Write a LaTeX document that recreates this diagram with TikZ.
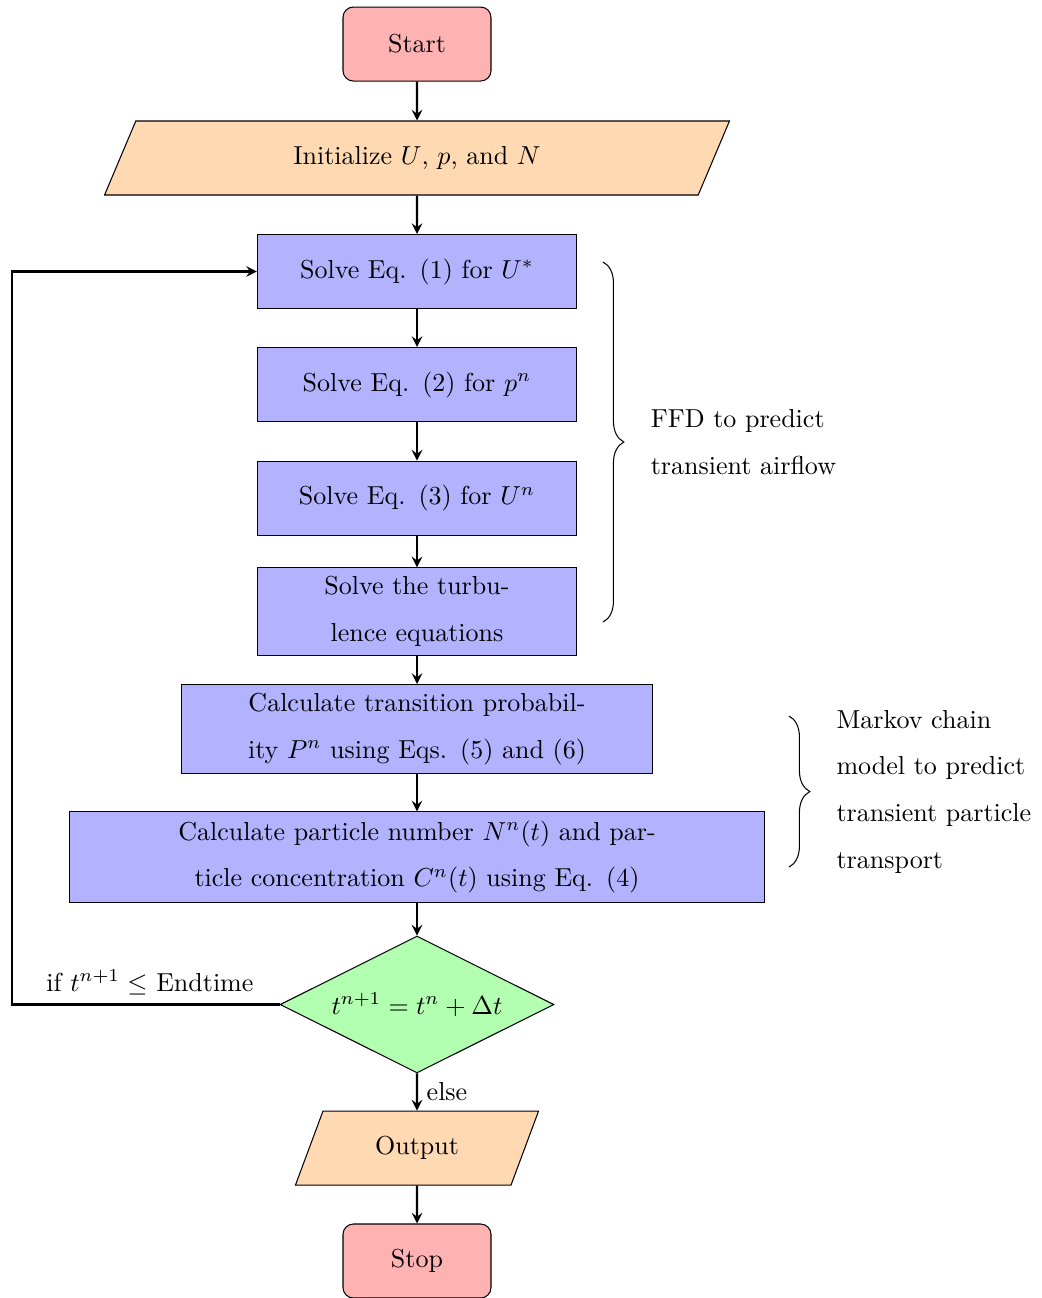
\documentclass[tikz,border=0pt]{standalone}
\usepackage{amsmath,amsfonts,amssymb}
\usepackage{tikz}
\usetikzlibrary{arrows, calc, shapes.geometric, decorations.pathreplacing}
\linespread{1.5}

\begin{document}
\selectfont
\begin{tikzpicture}[startstop/.style={
	            rectangle,
	            rounded corners,
	            draw,
	            fill=red!30,
	            align=center,
	            minimum width=2cm,
	            minimum height=1cm,
	            },
	            io/.style={
	            trapezium,
	            trapezium left angle=70,
	            trapezium right angle=110,
	            trapezium stretches=true,
	            draw,
	            fill=orange!30,
	            minimum height=1cm,
	            },
	            process/.style={
	            rectangle,
	            draw,
	            fill=blue!30,
	            align=center,
	            text width=4.08cm,
	            minimum height=1cm,
	            },
	            decision/.style={
	            diamond,
	            aspect=2,
	            draw,
	            fill=green!30,
	            minimum width=3.7cm,
	            minimum height=1.85cm,
	            },
	            >=stealth,
	            arrow/.style={
                    draw,
                    thick,
                    ->
                }]

	        \useasboundingbox (0,0) rectangle (14.08,-17.54);

	        \node[startstop] (start) at (5.635,-0.595) {Start};
	        \node[io, minimum width=8.45cm] (init) at (5.635,-2.135) {Initialize $U$, $p$, and $N$};
	        \node[process] (solveU) at (5.635,-3.669) {Solve Eq. (1) for $U^*$};
	        \node[process] (solveP) at (5.635,-5.196) {Solve Eq. (2) for $p^n$};
	        \node[process] (solveUn) at (5.635,-6.730) {Solve Eq. (3) for $U^n$};
	        \node[process] (turb) at (5.635,-8.264) {Solve the turbulence equations};
	        \node[process, text width=6.12cm] (trans) at (5.635,-9.851) {Calculate transition probability $P^n$ using Eqs. (5) and (6)};
	        \node[process, text width=9.17cm] (conc) at (5.635,-11.581) {Calculate particle number $N^n(t)$ and particle concentration $C^n(t)$ using Eq. (4)};
	        \node[decision] (dec) at (5.635,-13.574) {$t^{n+1}=t^n+\Delta t$};
	        \node[io, minimum width=3.3cm] (out) at (5.635,-15.514) {Output};
	        \node[startstop] (stop) at (5.635,-17.04) {Stop};

	        \draw[arrow] (start) -- (init);
	        \draw[arrow] (init) -- (solveU);
	        \draw[arrow] (solveU) -- (solveP);
	        \draw[arrow] (solveP) -- (solveUn);
	        \draw[arrow] (solveUn) -- (turb);
	        \draw[arrow] (turb) -- (trans);
	        \draw[arrow] (trans) -- (conc);
	        \draw[arrow] (conc) -- (dec);
	        \draw[arrow] (dec) -- node[right] {else} (out);
	        \draw[arrow] (out) -- (stop);

	        % loop back
	        \coordinate (back) at (0.166,-13.574);
	        \draw[arrow] (dec.west) -- node[above, pos=.485] {if $t^{n+1}\leq$ Endtime} (back) |- (solveU.west);

	        % braces
	        \coordinate (ffdtop) at (8.149,-3.541);
	        \coordinate (ffdbot) at (8.149,-8.405);
	        \draw[decorate, decoration={brace, amplitude=8pt}] (ffdtop) -- (ffdbot);
	        \node[align=left, anchor=west] (ffd) at (8.67,-5.973) {FFD to predict\\transient airflow};

	        \coordinate (mctop) at (10.662,-9.676);
	        \coordinate (mcbot) at (10.662,-11.716);
	        \draw[decorate, decoration={brace, amplitude=8pt}] (mctop) -- (mcbot);
	        \node[align=left, anchor=west] (mc) at (11.18,-10.70) {Markov chain\\model to predict\\transient particle\\transport};

	    \end{tikzpicture}
\end{document}
